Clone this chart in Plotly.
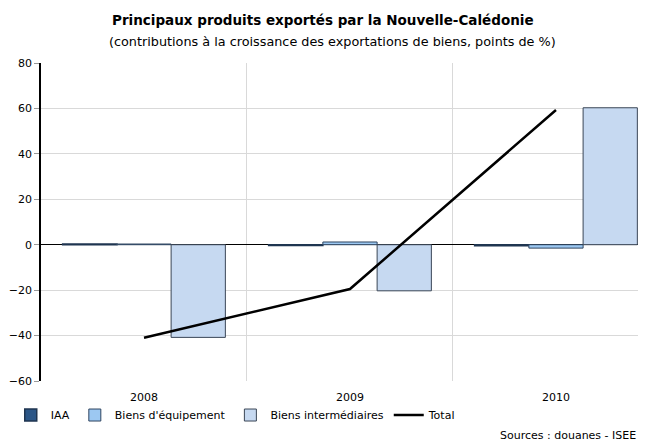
import plotly.graph_objects as go

years = ["2008", "2009", "2010"]
iaa = [0.3, -0.3, -0.5]
biens_equipement = [0.3, 1.2, -1.5]
biens_intermediaires = [-40.8, -20.3, 60.3]
total = [-41.0, -19.5, 59.3]

font_family = "DejaVu Sans"

fig = go.Figure()

fig.add_trace(go.Bar(x=years, y=iaa, name="IAA",
                     marker=dict(color="#2B5687", line=dict(color="#1F3550", width=1.5))))
fig.add_trace(go.Bar(x=years, y=biens_equipement, name="Biens d'équipement",
                     marker=dict(color="#9CC8F2", line=dict(color="#2F4560", width=1))))
fig.add_trace(go.Bar(x=years, y=biens_intermediaires, name="Biens intermédiaires",
                     marker=dict(color="#C6D9F1", line=dict(color="#3A4656", width=1))))
fig.add_trace(go.Scatter(x=years, y=total, name="Total", mode="lines",
                         line=dict(color="black", width=2.5)))

# page body has an 8px margin, so the figure is a bit smaller than the window
fig.update_layout(
    width=638,
    height=433,
    margin=dict(l=33, r=0, t=55, b=60, autoexpand=False),
    paper_bgcolor="white",
    plot_bgcolor="white",
    barmode="group",
    bargap=0.21,
    bargroupgap=0,
    font=dict(family=font_family, size=11, color="black"),
    xaxis=dict(
        type="category",
        range=[-0.5, 2.437],
        tickson="boundaries",
        showgrid=True,
        gridcolor="#D9D9D9",
        gridwidth=1,
        ticks="",
        showline=False,
        zeroline=False,
        tickfont=dict(size=11),
        ticklabelstandoff=8,
    ),
    yaxis=dict(
        range=[-60, 80],
        dtick=20,
        showgrid=True,
        gridcolor="#D9D9D9",
        zeroline=True,
        zerolinecolor="black",
        zerolinewidth=1.2,
        showline=True,
        linecolor="black",
        linewidth=1.5,
        ticks="outside",
        ticklen=5,
        tickcolor="#999999",
        tickfont=dict(size=11),
    ),
    legend=dict(
        orientation="h",
        x=-0.05, xanchor="left",
        y=-0.107, yanchor="middle",
        font=dict(size=11),
        itemwidth=30,
        tracegroupgap=0,
        bgcolor="rgba(0,0,0,0)",
    ),
    showlegend=True,
)

fig.add_annotation(
    text="<b>Principaux produits exportés par la Nouvelle-Calédonie</b>",
    xref="paper", yref="paper",
    x=0.466, xanchor="center",
    y=1.135, yanchor="middle",
    showarrow=False,
    font=dict(size=13.5),
)
fig.add_annotation(
    text="(contributions à la croissance des exportations de biens, points de %)",
    xref="paper", yref="paper",
    x=0.482, xanchor="center",
    y=1.069, yanchor="middle",
    showarrow=False,
    font=dict(size=12.8),
)
fig.add_annotation(
    text="Sources : douanes - ISEE",
    xref="paper", yref="paper",
    x=0.987, xanchor="right",
    y=-0.17, yanchor="middle",
    showarrow=False,
    font=dict(size=11),
)

fig.write_html("out.html")
